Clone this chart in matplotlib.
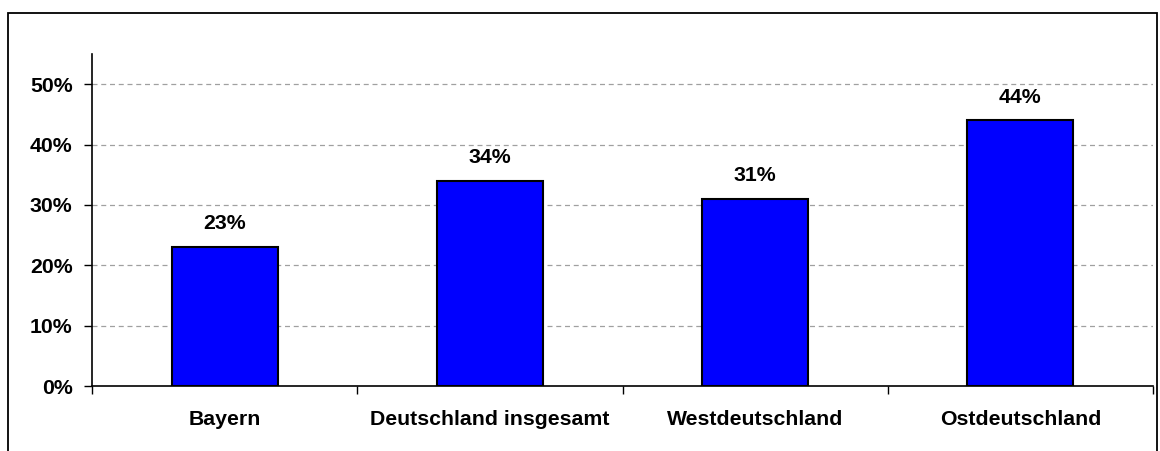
import matplotlib
matplotlib.use("Agg")
import matplotlib.pyplot as plt
from matplotlib.patches import Rectangle
from matplotlib.ticker import FixedLocator

categories = ["Bayern", "Deutschland insgesamt", "Westdeutschland", "Ostdeutschland"]
values = [23, 34, 31, 44]
yticks = [0, 10, 20, 30, 40, 50]
ytick_labels = ["0%", "10%", "20%", "30%", "40%", "50%"]

plt.rcParams['font.family'] = ['Liberation Sans', 'DejaVu Sans']
plt.rcParams['font.weight'] = 'bold'
FS = 15.3

fig = plt.figure(figsize=(11.6, 4.51), dpi=100)
fig.patches.append(Rectangle((8/1160, -0.02), (1157-8)/1160, (451-13)/451 + 0.02,
                             transform=fig.transFigure, fill=False, edgecolor='black',
                             linewidth=1.3, zorder=10))
ax = fig.add_axes([92/1160, 65/451, (1153-92)/1160, (386-54)/451])

x = list(range(len(categories)))
ax.bar(x, values, width=0.4, color='#0000FF', edgecolor='black', linewidth=1.5, zorder=3)
for xi, v in zip(x, values):
    ax.annotate(f"{v}%", (xi, v), xytext=(0, 10), textcoords='offset points',
                ha='center', va='bottom', fontsize=FS, fontweight='bold')

ax.set_xlim(-0.5, 3.5)
ax.set_ylim(0, 55)
ax.set_yticks(yticks)
ax.set_yticklabels(ytick_labels, fontsize=FS, fontweight='bold')
ax.set_xticks(x)
ax.set_xticklabels(categories, fontsize=FS, fontweight='bold')
ax.xaxis.set_minor_locator(FixedLocator([-0.5, 0.5, 1.5, 2.5, 3.5]))
ax.tick_params(axis='x', which='major', length=0, pad=17)
ax.tick_params(axis='x', which='minor', length=6, width=1, direction='out')
ax.tick_params(axis='y', length=6, width=1, direction='out', pad=8)

for y in yticks[1:]:
    ax.axhline(y, color='#A0A0A0', linestyle=(0, (4, 3)), linewidth=0.9, zorder=1)

for s in ['top', 'right']:
    ax.spines[s].set_visible(False)
ax.spines['left'].set_linewidth(1.2)
ax.spines['bottom'].set_linewidth(1.2)

fig.savefig("out.png", dpi=100)
